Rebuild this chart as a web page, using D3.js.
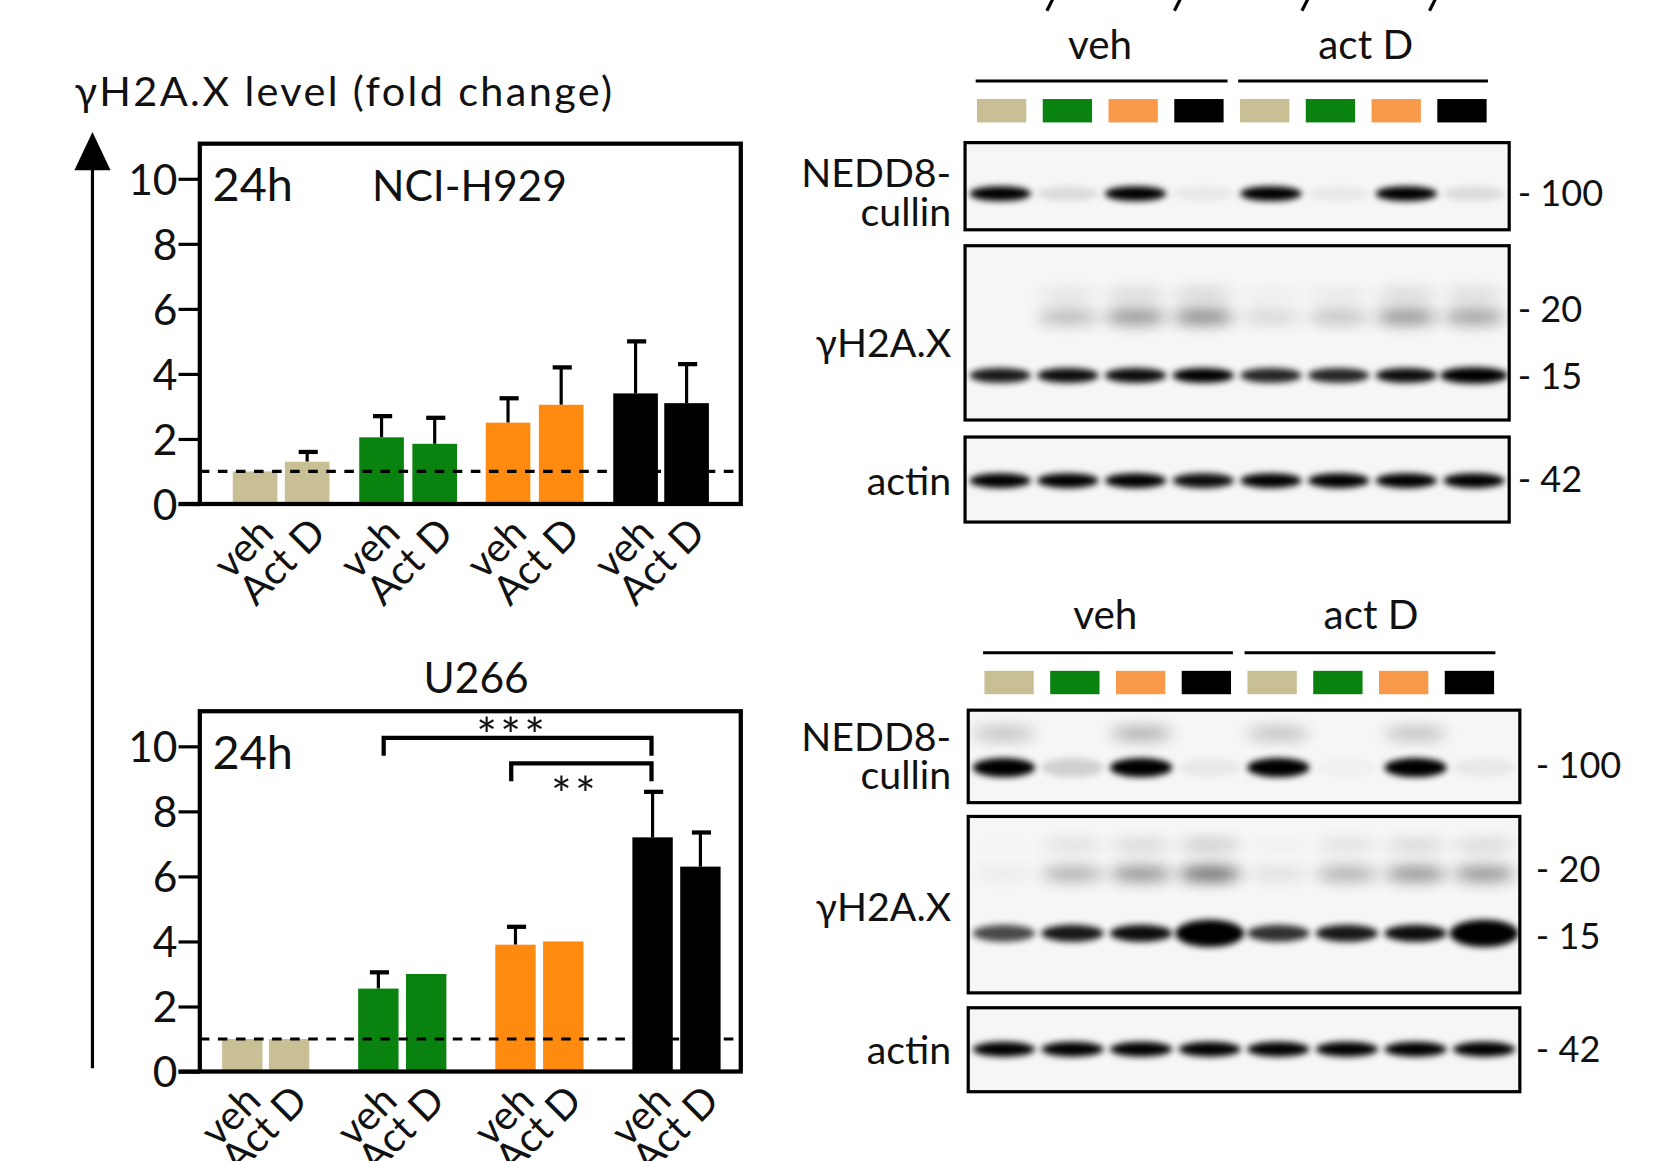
<!DOCTYPE html>
<html><head><meta charset="utf-8">
<script src="https://cdn.jsdelivr.net/npm/d3@7"></script>
<style>body{margin:0;background:#fff}text{font-family:Lato,"Open Sans",sans-serif;fill:#111}</style>
</head><body>
<svg id="fig" width="1658" height="1161" viewBox="0 0 1560 1092"></svg>
<script>
// bar chart data
var groups = ['tan','green','orange','black'];
var colors = {tan:'#c8bf94', green:'#0a820f', orange:'#ff8a10', black:'#000'};
var treat = ['veh','Act D'];
var h929Mean = [1.0, 1.3, 2.05, 1.85, 2.5, 3.05, 3.4, 3.1];
var h929Err  = [null, 1.6, 2.7, 2.65, 3.25, 4.2, 5.0, 4.3];
var u266Mean = [1.0, 1.0, 2.55, 3.0, 3.9, 4.0, 7.2, 6.3];
var u266Err  = [null, null, 3.05, null, 4.45, null, 8.6, 7.35];
var yTicks = [0, 2, 4, 6, 8, 10];

// blot band intensities (0..1+), one per lane
var lanes = ['tan','green','orange','black','tan','green','orange','black'];
var topNedd = [1, .1, 1, .05, 1, .05, 1, .1];
var topH15 = [.9, .95, .95, 1, .85, .85, .95, 1.1];
var topH20 = [0, .3, .5, .55, .15, .25, .5, .45];
var topActin = [1, 1, 1, .95, 1, 1, 1, 1];
var botNedd = [1, .15, 1, .05, 1, .02, 1, .05];
var botNeddUp = [.3, 0, .4, 0, .3, 0, .3, 0];
var botH15 = [.7, .9, .95, 1.6, .8, .9, .95, 1.6];
var botH20 = [.05, .35, .5, .7, .1, .35, .5, .5];
var botActin = [1, 1, 1, 1, 1, 1, 1, 1];

var svg = d3.select('#fig');
var defs = svg.append('defs');
defs.append('filter').attr('id','blur').attr('x','-50%').attr('y','-200%').attr('width','200%').attr('height','500%')
	.append('feGaussianBlur').attr('stdDeviation', 3);
defs.append('filter').attr('id','blur2').attr('x','-50%').attr('y','-200%').attr('width','200%').attr('height','500%')
	.append('feGaussianBlur').attr('stdDeviation', 7);

// y axis title and long arrow
svg.append('text').attr('x', 70).attr('y', 100).style('font-size','39px').attr('textLength',506).text('γH2A.X level (fold change)');
svg.append('line').attr('x1',87).attr('x2',87).attr('y1',1005).attr('y2',150).attr('stroke','#000').attr('stroke-width',3);
svg.append('path').attr('d','M70,160 L87,124 L104,160 Z').attr('fill','#000');

function barChart(top, mean, err, barX, barW){
	var left = 188, right = 697, bottom = top + 339;
	var y = d3.scaleLinear().domain([0,10]).range([bottom, top + 33]);
	var g = svg.append('g');
	var ax = g.append('g').attr('transform','translate(' + left + ',0)')
		.call(d3.axisLeft(y).tickValues(yTicks).tickSize(20).tickSizeOuter(0));
	ax.select('.domain').remove();
	ax.selectAll('line').attr('stroke-width',3);
	ax.selectAll('text').style('font-size','40px').attr('dx','2').attr('dy','0.36em');
	mean.forEach(function(v, i){
		var c = colors[groups[Math.floor(i/2)]];
		var x0 = barX[i];
		if (err[i] != null){
			g.append('line').attr('x1',x0+barW/2).attr('x2',x0+barW/2).attr('y1',y(v)).attr('y2',y(err[i])).attr('stroke','#000').attr('stroke-width',3);
			g.append('line').attr('x1',x0+barW/2-8).attr('x2',x0+barW/2+10).attr('y1',y(err[i])).attr('y2',y(err[i])).attr('stroke','#000').attr('stroke-width',4);
		}
		g.append('rect').attr('x',x0).attr('y',y(v)).attr('width',barW).attr('height',bottom - y(v)).attr('fill',c);
		g.append('text').attr('transform','translate(' + (x0 + barW/2 - 2) + ',' + (bottom + 8) + ') rotate(-45)')
			.attr('text-anchor','end').attr('dy','0.8em').style('font-size','38px').text(treat[i%2]);
	});
	g.append('line').attr('x1',left).attr('x2',right).attr('y1',y(1)).attr('y2',y(1)).attr('stroke','#000').attr('stroke-width',3).attr('stroke-dasharray','9,8');
	g.append('rect').attr('x',left).attr('y',top).attr('width',right-left).attr('height',bottom-top).attr('fill','none').attr('stroke','#000').attr('stroke-width',4);
	g.append('line').attr('x1',left-20).attr('x2',left).attr('y1',bottom).attr('y2',bottom).attr('stroke','#000').attr('stroke-width',4);
	g.append('text').attr('x',200).attr('y',top+54).style('font-size','44px').text('24h');
	return y;
}
barChart(135, h929Mean, h929Err, [219,268,338,388,457,507,577,625], 42);
svg.append('text').attr('x',350).attr('y',189).style('font-size','40px').text('NCI-H929');
var yb = barChart(669, u266Mean, u266Err, [209,253,337,382,466,511,595,640], 38);
svg.append('text').attr('x',448).attr('y',652).attr('text-anchor','middle').style('font-size','40px').text('U266');
// significance brackets
function bracket(x1, x2, yy){
	svg.append('path').attr('d','M'+x1+','+(yy+17)+' V'+yy+' H'+x2+' V'+(yy+17)).attr('fill','none').attr('stroke','#000').attr('stroke-width',4);
}
bracket(361, 613, 694);
bracket(481, 613, 718);
svg.append('text').attr('x',482).attr('y',708).attr('text-anchor','middle').style('font-size','46px').style('letter-spacing','3px').text('***');
svg.append('text').attr('x',541).attr('y',764).attr('text-anchor','middle').style('font-size','46px').style('letter-spacing','3px').text('**');

// western blots
function blot(o){
	var g = svg.append('g');
	g.append('text').attr('x',o.vehX).attr('y',o.hdrY).attr('text-anchor','middle').style('font-size','38px').text('veh');
	g.append('text').attr('x',o.vehX+250).attr('y',o.hdrY).attr('text-anchor','middle').style('font-size','38px').text('act D');
	g.append('line').attr('x1',o.l1[0]).attr('x2',o.l1[1]).attr('y1',o.lineY).attr('y2',o.lineY).attr('stroke','#000').attr('stroke-width',3);
	g.append('line').attr('x1',o.l2[0]).attr('x2',o.l2[1]).attr('y1',o.lineY).attr('y2',o.lineY).attr('stroke','#000').attr('stroke-width',3);
	var lx = d3.scaleBand().domain(d3.range(8)).range([o.l1[0], o.l2[1]]).paddingInner(0.25).paddingOuter(0.02);
	lanes.forEach(function(l, i){
		g.append('rect').attr('x',lx(i)).attr('y',o.lineY+17).attr('width',lx.bandwidth()).attr('height',22).attr('fill', l=='orange' ? '#f99a4a' : colors[l]);
	});
	var lane = d3.scaleBand().domain(d3.range(8)).range([o.x0, o.x1]).padding(0.04);
	o.panels.forEach(function(p){
		var pg = g.append('g');
		var clip = 'clip' + Math.round(p.y0);
		defs.append('clipPath').attr('id',clip).append('rect').attr('x',o.x0).attr('y',p.y0).attr('width',o.x1-o.x0).attr('height',p.y1-p.y0);
		var inner = pg.append('g').attr('clip-path','url(#'+clip+')');
		inner.append('rect').attr('x',o.x0).attr('y',p.y0).attr('width',o.x1-o.x0).attr('height',p.y1-p.y0).attr('fill','#f6f6f6');
		p.bands.forEach(function(b){
			b.vals.forEach(function(v, i){
				if (v <= 0) return;
				var w = lane.bandwidth() * (v > 1 ? 1.05 : 0.95), hgt = b.h * (v > 1 ? v : 1);
				inner.append('ellipse').attr('cx', lane(i) + lane.bandwidth()/2).attr('cy', b.y)
					.attr('rx', w/2).attr('ry', hgt/2).attr('fill','#000')
					.attr('opacity', Math.min(1, v)).attr('filter', b.soft ? 'url(#blur2)' : 'url(#blur)');
			});
		});
		pg.append('rect').attr('x',o.x0).attr('y',p.y0).attr('width',o.x1-o.x0).attr('height',p.y1-p.y0).attr('fill','none').attr('stroke','#000').attr('stroke-width',3);
		p.label.forEach(function(t, k){
			pg.append('text').attr('x',895).attr('y',p.labelY + k*36).attr('text-anchor','end').style('font-size','37px').text(t);
		});
		p.markers.forEach(function(m){
			pg.append('text').attr('x',o.mx).attr('y',m[1]).attr('dy','0.35em').style('font-size','34px').text('- ' + m[0]);
		});
	});
}
blot({vehX:1035, hdrY:55, lineY:76, l1:[918,1155], l2:[1165,1400], x0:908, x1:1420, mx:1428,
	panels:[
		{y0:134, y1:216, label:['NEDD8-','cullin'], labelY:176, markers:[['100',182]],
			bands:[{y:182, h:14, vals:topNedd}]},
		{y0:231, y1:395, label:['γH2A.X'], labelY:336, markers:[['20',291],['15',354]],
			bands:[{y:298, h:12, vals:topH20, soft:true},{y:277, h:8, vals:topH20.map(function(v){return v*0.4;}), soft:true},{y:353, h:14, vals:topH15}]},
		{y0:411, y1:491, label:['actin'], labelY:466, markers:[['42',451]],
			bands:[{y:452, h:14, vals:topActin}]}
	]});
blot({vehX:1040, hdrY:592, lineY:614, l1:[925,1160], l2:[1171,1407], x0:911, x1:1430, mx:1445,
	panels:[
		{y0:668, y1:755, label:['NEDD8-','cullin'], labelY:706, markers:[['100',720]],
			bands:[{y:690, h:10, vals:botNeddUp, soft:true},{y:722, h:18, vals:botNedd}]},
		{y0:768, y1:934, label:['γH2A.X'], labelY:866, markers:[['20',818],['15',881]],
			bands:[{y:822, h:12, vals:botH20, soft:true},{y:795, h:8, vals:botH20.map(function(v){return v*0.4;}), soft:true},{y:878, h:16, vals:botH15}]},
		{y0:948, y1:1027, label:['actin'], labelY:1001, markers:[['42',987]],
			bands:[{y:987, h:14, vals:botActin}]}
	]});
// cut-off slanted ticks at the very top
[985, 1105, 1225, 1345].forEach(function(x){
	svg.append('line').attr('x1',x).attr('x2',x+6).attr('y1',10).attr('y2',-2).attr('stroke','#000').attr('stroke-width',3);
});
</script>
</body></html>
